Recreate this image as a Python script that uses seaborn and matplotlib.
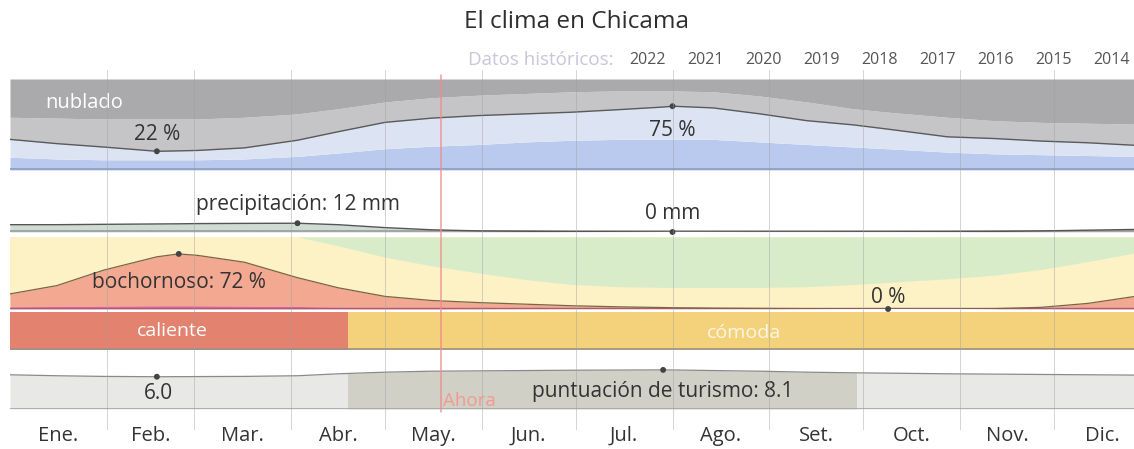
import numpy as np
import pandas as pd
import seaborn as sns
import matplotlib.pyplot as plt
from matplotlib.patches import Ellipse

sns.set_theme(style="white")
plt.rcParams['font.family'] = ['Open Sans', 'DejaVu Sans']

# ---------------- data ----------------
days = [0, 15, 30, 47, 54, 60, 75, 92, 105, 120, 135, 150, 165, 180, 195,
        209, 212, 225, 240, 255, 270, 281, 300, 315, 330, 345, 360]

# cloud cover (% of time) - boundaries of stacked bands
cloud_blue = [15, 13, 12, 12, 12, 12, 13, 16, 20, 25, 28, 30, 33, 35, 36,
              36, 36, 36, 33, 30, 27, 25, 21, 19, 18, 17, 16]
cloud_line = [36, 31, 27, 22, 22.5, 23, 26, 35, 45, 56, 61, 64, 66, 68, 71,
              74, 75, 73, 66, 58, 53, 48, 39, 37, 34, 32, 29]
cloud_lgray = [62, 61, 60, 60, 60, 60, 62, 66, 72, 80, 85, 88, 90, 92, 93,
               93, 93, 92, 87, 80, 72, 68, 62, 58, 56, 55, 54]

# precipitation (mm)
precip = [10, 10, 10.5, 11, 11.2, 11.5, 11.8, 12, 10, 6, 3, 1.5, 1, 0.5, 0.3,
          0.1, 0, 0.1, 0.2, 0.2, 0.3, 0.3, 0.5, 0.8, 1.5, 2.5, 3.5]

# humidity comfort (% of time)
opresivo = [3, 3.5, 4, 4.5, 4.5, 4.5, 4, 3.5, 2.5, 1.5, 0.8, 0.4, 0.2, 0, 0,
            0, 0, 0, 0, 0, 0, 0, 0, 0, 0.3, 0.8, 1.5]
bochornoso = [18, 29, 50, 68, 72, 70, 61, 40, 27, 16, 11, 8.5, 6.5, 4.5, 3,
              2, 1.8, 1.2, 0.8, 0.5, 0.2, 0, 0.1, 0.5, 2, 7, 16]
green_lower = [100, 100, 100, 100, 100, 100, 100, 100, 88, 72, 60, 50, 41, 34, 31,
               30, 30, 30, 30, 31, 34, 37, 42, 47, 55, 66, 78]

# temperature bands
temp_labels = ["caliente", "cómoda"]
temp_start = [0, 108]
temp_end = [108, 360]

# tourism score
tourism = [6.6, 6.3, 6.1, 6.0, 6.02, 6.05, 6.1, 6.3, 6.9, 7.4, 7.7, 7.8, 7.9, 8.0, 8.05,
           8.1, 8.08, 7.9, 7.7, 7.4, 7.2, 7.1, 6.9, 6.8, 6.7, 6.6, 6.5]
tour_band_edges = [0, 108, 271, 360]

months = ["Ene.", "Feb.", "Mar.", "Abr.", "May.", "Jun.", "Jul.", "Ago.",
          "Set.", "Oct.", "Nov.", "Dic."]
month_start = [0, 31, 59, 90, 120, 151, 181, 212, 243, 273, 304, 334]
month_mid = [15.5, 45, 74.5, 105, 135.5, 166, 196.5, 227.5, 258, 288.5, 319, 349.5]
years = ["2022", "2021", "2020", "2019", "2018", "2017", "2016", "2015", "2014"]
today = 138

d = np.array(days, dtype=float)

# ---------------- layout ----------------
W, H = 1134, 449
fig = plt.figure(figsize=(W / 100, H / 100), dpi=100)
X0 = 10
PXD = 3.125
XMAX = (W - X0) / PXD


def pax(top, bottom, z=1):
    ax = fig.add_axes([X0 / W, 1 - bottom / H, (W - X0) / W, (bottom - top) / H], zorder=z)
    ax.set_xlim(0, XMAX)
    ax.axis('off')
    return ax


TXT = '#333333'
FS = 15
MK = dict(color='#444444', s=18, edgecolor='none', zorder=5, clip_on=False)

# ---- cloud panel ----
axc = pax(79, 170)
axc.set_ylim(0, 107)
axc.fill_between(d, 0, cloud_blue, color='#b9caee', lw=0)
axc.fill_between(d, cloud_blue, cloud_line, color='#dce4f4', lw=0)
axc.fill_between(d, cloud_line, cloud_lgray, color='#c5c5c7', lw=0)
axc.fill_between(d, cloud_lgray, 107, color='#aaaaac', lw=0)
axc.axhline(0.6, color='#8c9cc2', lw=1.2)
sns.lineplot(x=d, y=cloud_line, ax=axc, color='#5a5a5a', lw=1)
i_min = int(np.argmin(cloud_line)); i_max = int(np.argmax(cloud_line))
sns.scatterplot(x=[d[i_min], d[i_max]], y=[cloud_line[i_min], cloud_line[i_max]], ax=axc, **MK)
axc.text(23.7, 79, "nublado", color='white', fontsize=14.5, ha='center', va='center')
axc.text(d[i_min], 42, f"{cloud_line[i_min]:.0f} %", color=TXT, fontsize=FS, ha='center', va='center')
axc.text(d[i_max], 47, f"{cloud_line[i_max]:.0f} %", color=TXT, fontsize=FS, ha='center', va='center')
axc.set_xlim(0, XMAX)

# ---- precipitation panel ----
axp = pax(194, 232)
axp.set_ylim(0, 52)
axp.fill_between(d, 0, precip, color='#cfdcd3', lw=0)
axp.axhline(0.8, color='#9a9a9a', lw=1.2)
sns.lineplot(x=d, y=precip, ax=axp, color='#555555', lw=1)
p_max = int(np.argmax(precip)); p_min = int(np.argmin(precip))
sns.scatterplot(x=[d[p_max], d[p_min]], y=[precip[p_max], precip[p_min]], ax=axp, **MK)
axp.text(d[p_max], 37, f"precipitación: {precip[p_max]:.0f} mm", color=TXT, fontsize=FS,
         ha='center', va='center')
axp.text(d[p_min], 25, f"{precip[p_min]:.0f} mm", color=TXT, fontsize=FS, ha='center', va='center')
axp.set_xlim(0, XMAX)

# ---- humidity panel ----
axh = pax(237, 309)
axh.set_ylim(0, 100)
b_top = np.array(opresivo) + np.array(bochornoso)
axh.fill_between(d, 0, 100, color='#fdf1c6', lw=0)
axh.fill_between(d, green_lower, 100, color='#d8ecca', lw=0)
axh.fill_between(d, opresivo, b_top, color='#f3a991', lw=0)
axh.fill_between(d, 0, opresivo, color='#e2689c', lw=0)
axh.axhline(0.8, color='#9b6470', lw=1.0)
sns.lineplot(x=d, y=b_top, ax=axh, color='#7a6548', lw=0.9)
h_max = int(np.argmax(bochornoso)); h_min = int(np.argmin(bochornoso))
sns.scatterplot(x=[d[h_max], d[h_min]], y=[b_top[h_max], b_top[h_min]], ax=axh, **MK)
axh.text(d[h_max], 37.5, f"bochornoso: {bochornoso[h_max]:.0f} %", color=TXT, fontsize=FS,
         ha='center', va='center')
axh.text(d[h_min], 16, f"{bochornoso[h_min]:.0f} %", color=TXT, fontsize=FS, ha='center', va='center')
axh.set_xlim(0, XMAX)

# ---- temperature bar ----
axt = pax(312, 350)
axt.set_ylim(0, 1)
temp_df = pd.DataFrame({"label": temp_labels, "start": temp_start, "end": temp_end})
temp_colors = ['#e3826f', '#f4d27c']
for (lab, s, e), col in zip(temp_df.itertuples(index=False), temp_colors):
    axt.barh(0.5, e - s, left=s, height=1, color=col, lw=0)
axt.axhline(0.02, color='#9b9388', lw=1.2)
axt.text(52, 0.5, temp_labels[0], color='white', fontsize=14, ha='center', va='center')
axt.text(235, 0.45, temp_labels[1], color='white', fontsize=14, ha='center', va='center', alpha=0.8)
axt.set_xlim(0, XMAX)

# ---- tourism panel ----
axu = pax(365, 409)
lo = -3.9
axu.set_ylim(lo, 9.6)
tour_cols = ['#e8e8e6', '#d0d0c7', '#e8e8e6']
for k in range(3):
    m = (d >= tour_band_edges[k]) & (d <= tour_band_edges[k + 1])
    xs = np.concatenate([[tour_band_edges[k]], d[m], [tour_band_edges[k + 1]]])
    ys = np.interp(xs, d, tourism)
    axu.fill_between(xs, lo, ys, color=tour_cols[k], lw=0)
axu.axhline(lo + 0.1, color='#a4a4a4', lw=1.2)
sns.lineplot(x=d, y=tourism, ax=axu, color='#8a8a8a', lw=0.9)
t_min = int(np.argmin(tourism)); t_max = int(np.argmax(tourism))
sns.scatterplot(x=[d[t_min], d[t_max]], y=[tourism[t_min], tourism[t_max]], ax=axu, **MK)
axu.text(d[t_min] + 0.5, 0.8, f"{tourism[t_min]:.1f}", color=TXT, fontsize=FS, ha='center', va='center')
axu.text(d[t_max], 1.6, f"puntuación de turismo: {tourism[t_max]:.1f}", color=TXT, fontsize=FS,
         ha='center', va='center')
axu.text(today + 0.6, -1.5, "Ahora", color='#f39a90', fontsize=13.5, ha='left', va='center')
axu.set_xlim(0, XMAX)

# ---- grid overlay ----
axg = pax(70, 430, z=5)
axg.set_ylim(0, 1)
for ms in month_start[1:]:
    axg.axvline(ms, color='#a0a0a0', lw=0.7, alpha=0.45)
axg.axvline(today, ymin=(430 - 412) / 360, ymax=(430 - 75) / 360, color='#f08a8a', lw=1.1, alpha=0.85)

# ---- month labels ----
axm = pax(420, 449)
axm.set_ylim(0, 1)
for lab, mm in zip(months, month_mid):
    axm.text(mm, 0.45, lab, color=TXT, fontsize=14.5, ha='center', va='center')

# ---- header ----
fig.text(576 / W, 1 - 22 / H, "El clima en Chicama", color='#2e2e2e', fontsize=17.5,
         ha='center', va='center', fontweight='normal')
fig.text(614 / W, 1 - 60 / H, "Datos históricos:", color='#c9c5da', fontsize=13.5,
         ha='right', va='center')
for k, y in enumerate(years):
    fig.text((647 + 58 * k) / W, 1 - 60 / H, y, color='#555555', fontsize=11.5,
             ha='center', va='center')

# purple arc at right edge
fig.add_artist(Ellipse((1152 / W, 1 - 270 / H), 48 / W, 58 / H, transform=fig.transFigure,
                       fill=False, edgecolor='#5b3fd0', lw=1.6))

fig.savefig('out.png', dpi=100)
